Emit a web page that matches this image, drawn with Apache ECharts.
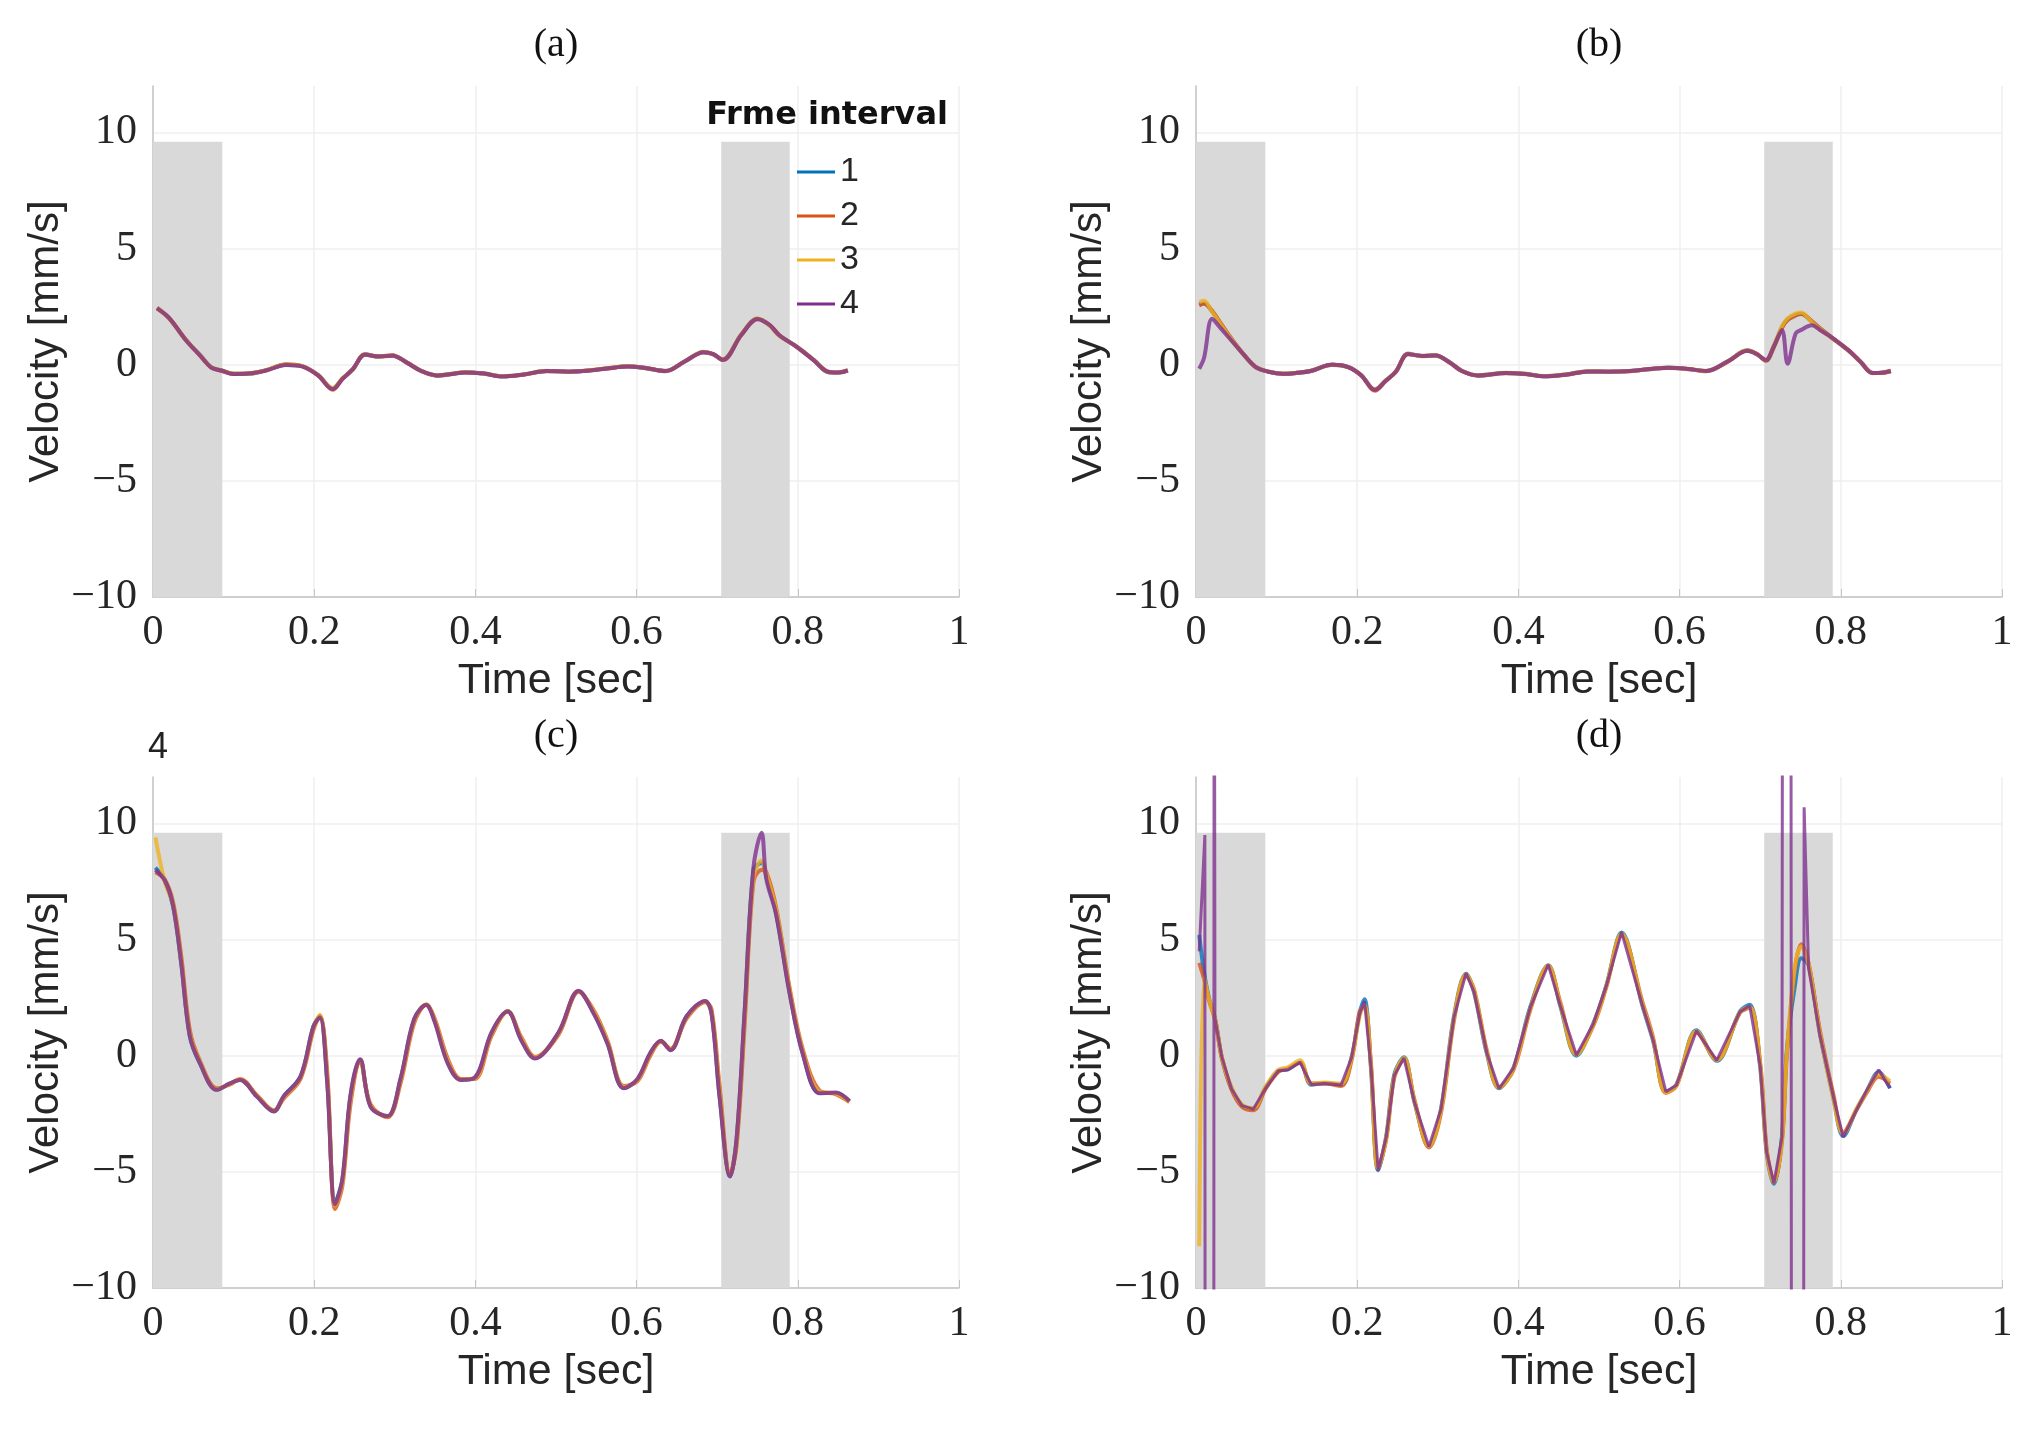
<!DOCTYPE html>
<html>
<head>
<meta charset="utf-8">
<script src="https://cdn.jsdelivr.net/npm/echarts@6/dist/echarts.min.js"></script>
<style>
  html, body { margin: 0; padding: 0; background: #fff; }
  #main { width: 2038px; height: 1430px; }
</style>
</head>
<body>
<div id="main"></div>
<script>
// series names and colours (MATLAB default order)
var seriesNames = ['1', '2', '3', '4'];
var seriesColors = ['#0072BD', '#D95319', '#EDB120', '#7E2F8E'];

// shaded windows [start, end] in seconds, and their top in mm/s
var shadeBands = [[0, 0.086], [0.705, 0.79]];
var shadeTop = 9.6;

// ---- panel (a)
var tA = [0.005, 0.02, 0.04, 0.06, 0.072, 0.085, 0.1, 0.12, 0.14, 0.165, 0.186, 0.205, 0.223, 0.235, 0.248, 0.263, 0.28, 0.297, 0.315, 0.333, 0.352, 0.37, 0.387, 0.41, 0.434, 0.46, 0.488, 0.515, 0.542, 0.565, 0.589, 0.612, 0.636, 0.66, 0.683, 0.695, 0.707, 0.73, 0.75, 0.765, 0.777, 0.8, 0.82, 0.838, 0.85, 0.862];
var a1 = [2.45, 2.0, 1.1, 0.35, -0.1, -0.25, -0.39, -0.38, -0.24, 0.0, -0.07, -0.45, -1.03, -0.6, -0.2, 0.45, 0.35, 0.4, 0.1, -0.27, -0.46, -0.4, -0.32, -0.38, -0.5, -0.42, -0.27, -0.3, -0.24, -0.15, -0.07, -0.15, -0.27, 0.15, 0.55, 0.45, 0.22, 1.3, 1.98, 1.7, 1.26, 0.75, 0.2, -0.32, -0.33, -0.24];
var a2 = [2.42, 2.02, 1.12, 0.33, -0.12, -0.26, -0.4, -0.37, -0.25, 0.02, -0.08, -0.47, -1.08, -0.62, -0.18, 0.43, 0.36, 0.41, 0.08, -0.28, -0.47, -0.41, -0.33, -0.37, -0.5, -0.43, -0.28, -0.29, -0.25, -0.16, -0.08, -0.14, -0.28, 0.14, 0.53, 0.47, 0.2, 1.28, 1.96, 1.72, 1.28, 0.73, 0.18, -0.3, -0.34, -0.25];
var a3 = [2.47, 1.98, 1.08, 0.36, -0.09, -0.24, -0.38, -0.39, -0.23, 0.01, -0.06, -0.44, -1.0, -0.58, -0.21, 0.46, 0.34, 0.39, 0.11, -0.26, -0.45, -0.39, -0.31, -0.39, -0.49, -0.41, -0.26, -0.31, -0.23, -0.14, -0.06, -0.16, -0.26, 0.16, 0.56, 0.44, 0.23, 1.32, 2.0, 1.68, 1.24, 0.76, 0.21, -0.33, -0.32, -0.23];
var a4 = [2.44, 2.01, 1.09, 0.34, -0.11, -0.25, -0.4, -0.38, -0.25, -0.01, -0.08, -0.46, -1.05, -0.61, -0.19, 0.44, 0.35, 0.39, 0.09, -0.27, -0.46, -0.4, -0.33, -0.38, -0.51, -0.42, -0.27, -0.3, -0.25, -0.15, -0.08, -0.15, -0.27, 0.15, 0.54, 0.46, 0.21, 1.29, 1.97, 1.71, 1.27, 0.74, 0.19, -0.31, -0.33, -0.24];

// ---- panel (b)
var tB = [0.004, 0.01, 0.02, 0.03, 0.045, 0.06, 0.074, 0.09, 0.108, 0.125, 0.142, 0.169, 0.189, 0.205, 0.222, 0.235, 0.248, 0.263, 0.28, 0.297, 0.315, 0.33, 0.35, 0.384, 0.41, 0.431, 0.46, 0.485, 0.512, 0.539, 0.565, 0.586, 0.61, 0.633, 0.66, 0.684, 0.696, 0.707, 0.717, 0.727, 0.734, 0.744, 0.751, 0.764, 0.776, 0.788, 0.81, 0.825, 0.839, 0.85, 0.862];
var b1 = [2.6, 2.65, 2.3, 1.8, 1.05, 0.4, -0.1, -0.3, -0.39, -0.35, -0.27, 0.0, -0.1, -0.45, -1.08, -0.7, -0.3, 0.47, 0.38, 0.4, 0.1, -0.27, -0.46, -0.36, -0.4, -0.5, -0.42, -0.29, -0.3, -0.27, -0.18, -0.13, -0.18, -0.27, 0.15, 0.62, 0.45, 0.19, 0.8, 1.62, 1.95, 2.15, 2.2, 1.85, 1.5, 1.19, 0.6, 0.1, -0.36, -0.35, -0.27];
var b2 = [2.55, 2.62, 2.32, 1.82, 1.08, 0.42, -0.08, -0.31, -0.4, -0.34, -0.28, 0.01, -0.11, -0.47, -1.12, -0.72, -0.28, 0.45, 0.39, 0.41, 0.08, -0.28, -0.47, -0.37, -0.41, -0.5, -0.43, -0.3, -0.29, -0.28, -0.17, -0.14, -0.17, -0.28, 0.13, 0.6, 0.47, 0.17, 0.75, 1.58, 1.92, 2.12, 2.18, 1.88, 1.52, 1.2, 0.62, 0.12, -0.34, -0.36, -0.28];
var b3 = [2.7, 2.75, 2.28, 1.78, 1.03, 0.38, -0.11, -0.29, -0.38, -0.36, -0.26, -0.01, -0.09, -0.44, -1.05, -0.68, -0.31, 0.48, 0.37, 0.39, 0.11, -0.26, -0.45, -0.35, -0.39, -0.49, -0.41, -0.28, -0.31, -0.26, -0.19, -0.12, -0.19, -0.26, 0.16, 0.63, 0.44, 0.2, 0.85, 1.66, 2.0, 2.2, 2.25, 1.83, 1.48, 1.17, 0.58, 0.09, -0.37, -0.34, -0.26];
var b4 = [-0.17, 0.3, 1.98, 1.6, 1.0, 0.4, -0.1, -0.3, -0.39, -0.35, -0.27, 0.0, -0.1, -0.45, -1.08, -0.7, -0.3, 0.46, 0.38, 0.4, 0.1, -0.27, -0.46, -0.36, -0.4, -0.5, -0.42, -0.29, -0.3, -0.27, -0.18, -0.13, -0.18, -0.27, 0.15, 0.6, 0.45, 0.2, 0.8, 1.5, 0.04, 1.34, 1.5, 1.7, 1.45, 1.19, 0.6, 0.1, -0.36, -0.35, -0.27];

// ---- panel (c)
var tC = [0.003, 0.0145, 0.025, 0.035, 0.0457, 0.058, 0.079, 0.095, 0.108, 0.129, 0.15, 0.162, 0.183, 0.199, 0.207, 0.216, 0.226, 0.235, 0.245, 0.257, 0.27, 0.291, 0.307, 0.324, 0.339, 0.349, 0.366, 0.382, 0.399, 0.42, 0.44, 0.457, 0.474, 0.503, 0.528, 0.547, 0.564, 0.584, 0.601, 0.617, 0.63, 0.642, 0.662, 0.685, 0.693, 0.703, 0.716, 0.724, 0.734, 0.745, 0.755, 0.761, 0.773, 0.79, 0.806, 0.827, 0.847, 0.864];
var c1 = [8.1, 7.56, 6.42, 3.98, 0.83, -0.32, -1.46, -1.2, -1.03, -1.75, -2.39, -1.75, -0.89, 1.26, 1.69, -1.03, -6.3, -5.33, -1.75, -0.17, -2.18, -2.61, -1.03, 1.55, 2.19, 1.55, -0.32, -1.03, -0.96, 0.97, 1.91, 0.69, -0.1, 0.97, 2.77, 1.83, 0.54, -1.39, -1.03, 0.11, 0.62, 0.26, 1.69, 2.34, 1.83, -1.75, -5.19, -3.61, 1.83, 7.99, 8.3, 7.7, 6.13, 2.69, 0.11, -1.6, -1.6, -1.96];
var c2 = [7.9, 7.6, 6.6, 4.3, 1.1, -0.2, -1.4, -1.25, -1.0, -1.7, -2.35, -1.85, -1.0, 1.1, 1.72, -0.6, -6.6, -5.6, -2.1, -0.25, -2.1, -2.65, -1.2, 1.4, 2.2, 1.65, -0.15, -1.0, -1.0, 0.85, 1.9, 0.8, -0.05, 0.9, 2.75, 1.95, 0.65, -1.3, -1.1, 0.0, 0.6, 0.3, 1.6, 2.3, 2.0, -1.3, -5.1, -3.9, 1.3, 7.5, 8.0, 7.9, 6.4, 2.9, 0.3, -1.5, -1.65, -2.0];
var c3 = [9.4, 7.5, 6.5, 4.1, 0.95, -0.25, -1.45, -1.22, -1.02, -1.72, -2.37, -1.8, -0.95, 1.2, 1.75, -0.8, -6.45, -5.45, -1.9, -0.2, -2.15, -2.62, -1.1, 1.5, 2.22, 1.6, -0.25, -1.02, -0.98, 0.92, 1.92, 0.75, -0.08, 0.95, 2.78, 1.88, 0.6, -1.35, -1.05, 0.05, 0.62, 0.28, 1.65, 2.32, 1.9, -1.5, -5.15, -3.75, 1.6, 7.7, 8.4, 7.8, 6.3, 2.8, 0.2, -1.55, -1.62, -1.98];
var c4 = [8.0, 7.55, 6.45, 4.0, 0.85, -0.3, -1.47, -1.2, -1.04, -1.76, -2.4, -1.76, -0.9, 1.25, 1.65, -1.1, -6.4, -5.3, -1.7, -0.15, -2.2, -2.6, -1.0, 1.58, 2.18, 1.5, -0.35, -1.04, -0.95, 1.0, 1.9, 0.66, -0.12, 1.0, 2.8, 1.8, 0.5, -1.4, -1.0, 0.12, 0.64, 0.24, 1.7, 2.36, 1.8, -1.8, -5.2, -3.6, 1.9, 8.1, 9.6, 7.6, 6.1, 2.65, 0.1, -1.62, -1.58, -1.95];

// ---- panel (d)
var tD = [0.004, 0.01, 0.016, 0.024, 0.032, 0.044, 0.057, 0.071, 0.086, 0.102, 0.114, 0.129, 0.143, 0.16, 0.18, 0.193, 0.203, 0.209, 0.217, 0.226, 0.236, 0.246, 0.258, 0.271, 0.289, 0.304, 0.32, 0.335, 0.345, 0.361, 0.376, 0.394, 0.415, 0.437, 0.452, 0.472, 0.493, 0.509, 0.528, 0.554, 0.567, 0.583, 0.596, 0.621, 0.646, 0.675, 0.687, 0.7, 0.708, 0.717, 0.727, 0.733, 0.743, 0.751, 0.76, 0.774, 0.791, 0.803, 0.82, 0.832, 0.847, 0.861];
var d1 = [5.2, 3.6, 2.5, 1.54, -0.07, -1.4, -2.13, -2.28, -1.4, -0.66, -0.59, -0.29, -1.25, -1.18, -1.25, -0.07, 1.84, 2.43, -0.51, -4.93, -3.46, -0.81, -0.07, -1.99, -3.9, -2.28, 1.69, 3.53, 2.72, 0.07, -1.4, -0.51, 2.13, 3.9, 2.13, 0.0, 1.4, 3.01, 5.3, 2.13, 0.66, -1.54, -1.25, 1.1, -0.22, 1.91, 2.2, -0.51, -4.19, -5.51, -3.46, 0.22, 3.0, 4.2, 3.9, 0.96, -1.84, -3.46, -2.28, -1.54, -0.7, -1.4];
var d2 = [4.0, 3.3, 2.4, 1.5, -0.1, -1.45, -2.2, -2.35, -1.45, -0.7, -0.55, -0.3, -1.2, -1.2, -1.3, -0.2, 1.9, 2.1, -0.3, -4.8, -3.6, -0.95, -0.15, -1.9, -3.95, -2.45, 1.5, 3.45, 2.85, 0.2, -1.35, -0.6, 2.0, 3.85, 2.3, 0.1, 1.3, 2.95, 5.2, 2.3, 0.8, -1.6, -1.3, 1.0, -0.15, 1.85, 2.05, -0.3, -4.0, -5.4, -3.7, 0.0, 3.7, 4.8, 4.0, 1.1, -1.7, -3.3, -2.3, -1.6, -0.9, -1.2];
var d3 = [-8.2, 3.4, 2.45, 1.52, -0.05, -1.35, -2.1, -2.25, -1.35, -0.6, -0.5, -0.2, -1.2, -1.15, -1.2, -0.1, 1.7, 2.2, -0.4, -4.85, -3.55, -0.9, -0.1, -1.95, -3.9, -2.35, 1.6, 3.5, 2.8, 0.15, -1.38, -0.55, 2.05, 3.88, 2.2, 0.05, 1.35, 2.98, 5.25, 2.2, 0.72, -1.58, -1.28, 1.05, -0.18, 1.88, 2.1, -0.4, -4.1, -5.45, -3.6, 0.1, 3.8, 4.7, 3.95, 1.0, -1.9, -3.35, -2.25, -1.55, -0.8, -1.1];
// interval 4 has its own sample times around the spikes that leave the axes
var tD4 = [0.004, 0.011, 0.0115, 0.022, 0.0225, 0.0235, 0.032, 0.044, 0.057, 0.071, 0.086, 0.102, 0.114, 0.129, 0.143, 0.16, 0.18, 0.193, 0.203, 0.209, 0.217, 0.226, 0.236, 0.246, 0.258, 0.271, 0.289, 0.304, 0.32, 0.335, 0.345, 0.361, 0.376, 0.394, 0.415, 0.437, 0.452, 0.472, 0.493, 0.509, 0.528, 0.554, 0.567, 0.583, 0.596, 0.621, 0.646, 0.675, 0.687, 0.7, 0.708, 0.717, 0.727, 0.728, 0.738, 0.739, 0.7535, 0.7545, 0.76, 0.774, 0.791, 0.803, 0.82, 0.832, 0.847, 0.861];
var d4 = [4.5, 9.5, -30, -30, 30, 1.6, -0.05, -1.42, -2.15, -2.3, -1.42, -0.65, -0.6, -0.28, -1.24, -1.2, -1.26, -0.08, 1.8, 2.35, -0.45, -4.95, -3.5, -0.85, -0.1, -2.0, -3.92, -2.3, 1.65, 3.55, 2.75, 0.1, -1.42, -0.52, 2.1, 3.92, 2.15, 0.02, 1.38, 3.0, 5.32, 2.15, 0.68, -1.55, -1.27, 1.08, -0.2, 1.9, 2.15, -0.45, -4.15, -5.5, -3.5, 30, 30, -30, -30, 10.7, 3.8, 0.9, -1.8, -3.5, -2.3, -1.5, -0.6, -1.4];

var panels = [
    { title: '(a)', left: 153, top: 86, times: [tA, tA, tA, tA], values: [a1, a2, a3, a4] },
    { title: '(b)', left: 1196, top: 86, times: [tB, tB, tB, tB], values: [b1, b2, b3, b4] },
    { title: '(c)', left: 153, top: 777, times: [tC, tC, tC, tC], values: [c1, c2, c3, c4] },
    { title: '(d)', left: 1196, top: 777, times: [tD, tD, tD, tD4], values: [d1, d2, d3, d4] }
];
var plotW = 806, plotH = 511;

function zip(t, v) {
    var out = [];
    for (var i = 0; i < t.length; i++) out.push([t[i], v[i]]);
    return out;
}

var grids = [], xAxes = [], yAxes = [], series = [], graphics = [];
var tickFont = 'Liberation Serif';

panels.forEach(function (p, k) {
    grids.push({ left: p.left, top: p.top, width: plotW, height: plotH });
    xAxes.push({
        type: 'value', gridIndex: k, min: 0, max: 1, interval: 0.2,
        name: 'Time [sec]', nameLocation: 'middle', nameGap: 63,
        nameTextStyle: { fontFamily: 'Liberation Sans', fontSize: 43, color: '#262626' },
        axisLine: { show: true, onZero: false, lineStyle: { color: '#c4c4c4', width: 1.5 } },
        axisTick: { show: true, inside: true, length: 8, lineStyle: { color: '#c4c4c4' } },
        axisLabel: {
            margin: 15, fontFamily: tickFont, fontSize: 42, color: '#262626',
            formatter: function (v) { return String(+v.toFixed(1)); }
        },
        splitLine: { show: true, lineStyle: { color: '#efefef', width: 1.5 } }
    });
    yAxes.push({
        type: 'value', gridIndex: k, min: -10, max: 12, interval: 5,
        name: 'Velocity [mm/s]', nameLocation: 'middle', nameGap: 78,
        nameTextStyle: { fontFamily: 'Liberation Sans', fontSize: 42, color: '#262626' },
        axisLine: { show: true, onZero: false, lineStyle: { color: '#c4c4c4', width: 1.5 } },
        axisTick: { show: false },
        axisLabel: {
            margin: 16, fontFamily: tickFont, fontSize: 42, color: '#262626', showMaxLabel: false,
            formatter: function (v) { return v > 11 ? '' : String(v).replace('-', '\u2212'); }
        },
        splitLine: { show: true, showMaxLine: false, lineStyle: { color: '#efefef', width: 1.5 } }
    });
    for (var s = 0; s < 4; s++) {
        // the interval-4 trace of panel (d) has vertical spikes: keep it straight
        var spiky = (k === 3 && s === 3);
        var ser = {
            name: seriesNames[s], type: 'line', xAxisIndex: k, yAxisIndex: k,
            data: zip(p.times[s], p.values[s]),
            symbol: 'none', showSymbol: false, clip: true, animation: false, z: 3,
            smooth: spiky ? false : 0.35,
            lineStyle: { color: seriesColors[s], width: spiky ? 3 : 4, opacity: 0.8 },
            itemStyle: { color: seriesColors[s] }
        };
        if (s === 0) {
            ser.markArea = {
                silent: true, z: 1,
                itemStyle: { color: '#d9d9d9', opacity: 1 },
                label: { show: false },
                data: shadeBands.map(function (b) {
                    return [{ xAxis: b[0], yAxis: -10 }, { xAxis: b[1], yAxis: shadeTop }];
                })
            };
        }
        series.push(ser);
    }
    graphics.push({
        type: 'text', x: p.left + plotW / 2, y: p.top - 41,
        style: { text: p.title, textAlign: 'center', textVerticalAlign: 'middle',
                 font: '40px "Liberation Serif"', fill: '#111' }
    });
});

// legend heading and the stray "4" above panel (c)
graphics.push({
    type: 'text', x: 948, y: 116,
    style: { text: 'Frme interval', textAlign: 'right', textVerticalAlign: 'middle',
             font: 'bold 32px "DejaVu Sans"', fill: '#111' }
});
graphics.push({
    type: 'text', x: 158, y: 748,
    style: { text: '4', textAlign: 'center', textVerticalAlign: 'middle',
             font: '36px "Liberation Sans"', fill: '#222' }
});

var chart = echarts.init(document.getElementById('main'));
chart.setOption({
    backgroundColor: '#ffffff',
    animation: false,
    grid: grids,
    xAxis: xAxes,
    yAxis: yAxes,
    legend: {
        data: seriesNames, orient: 'vertical', left: 792, top: 150,
        icon: 'rect', itemWidth: 38, itemHeight: 3, itemGap: 10,
        textStyle: { fontFamily: 'Liberation Sans', fontSize: 34, lineHeight: 34, color: '#262626' }
    },
    graphic: graphics,
    series: series
});
</script>
</body>
</html>
